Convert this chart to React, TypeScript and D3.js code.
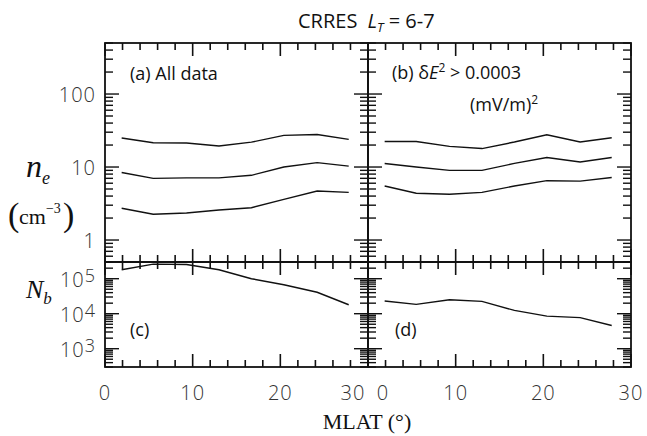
import React from "react";
import * as d3 from "d3";

// ---- data ----
const mlat = [1.9, 5.5, 9.3, 13.0, 16.7, 20.4, 24.2, 27.8];
const aUpper = [25, 21.5, 21.3, 19.4, 21.9, 27.1, 27.9, 23.9];
const aMid = [8.4, 7.0, 7.1, 7.1, 7.7, 10.0, 11.5, 10.3];
const aLower = [2.72, 2.26, 2.35, 2.58, 2.77, 3.6, 4.7, 4.5];
const bUpper = [22.4, 22.4, 19.2, 17.9, 22, 27.7, 22, 25.2];
const bMid = [11.2, 10, 9.0, 9.0, 11.2, 13.5, 11.7, 13.5];
const bLower = [5.5, 4.37, 4.23, 4.5, 5.5, 6.5, 6.4, 7.2];
const cNb = [1.8e5, 2.6e5, 2.55e5, 1.8e5, 1.0e5, 6.7e4, 4.1e4, 1.8e4];
const dNb = [2.3e4, 1.85e4, 2.5e4, 2.25e4, 1.24e4, 8.5e3, 7.7e3, 4.6e3];

const xDomain = [0, 30];
const xTickLabels = [0, 10, 20, 30];
const xMinorTicks = [0, 2, 4, 6, 8, 10, 12, 14, 16, 18, 20, 22, 24, 26, 28, 30];
const neDomain = [0.5, 500];
const neTickLabels = ["1", "10", "100"];
const nbDomain = [300, 3e5];
const nbTickExps = ["3", "4", "5"];

// ---- layout ----
const L = { x0: 105, x1: 368 };
const R = { x0: 368, x1: 631 };
const TOP = { y0: 43, y1: 262 };
const BOT = { y0: 262, y1: 367 };

const tickFont = "'Open Sans', 'Noto Sans', sans-serif";
const serif = "'Liberation Serif', 'DejaVu Serif', serif";
const INK = "#111";

function logTicks(lo: number, hi: number) {
  const out: { v: number; major: boolean }[] = [];
  const e0 = Math.floor(Math.log10(lo));
  const e1 = Math.ceil(Math.log10(hi));
  for (let e = e0; e <= e1; e++) {
    for (let m = 1; m <= 9; m++) {
      const v = m * Math.pow(10, e);
      if (v >= lo * 0.9999 && v <= hi * 1.0001) out.push({ v: v, major: m === 1 });
    }
  }
  return out;
}

function panelMarks(key: string, xr: any, yr: any, ydom: number[], series: number[][]) {
  const x = d3.scaleLinear().domain(xDomain).range([xr.x0, xr.x1]);
  const y = d3.scaleLog().domain(ydom).range([yr.y1, yr.y0]);
  const lineGen = d3.line<number>().x((_, i) => x(mlat[i])).y((v) => y(v));
  const yt = logTicks(ydom[0], ydom[1]);
  const out: any[] = [];
  xMinorTicks.forEach((v) => {
    const len = v % 10 === 0 ? 13 : 7;
    out.push(<line key={key + "xt" + v} x1={x(v)} x2={x(v)} y1={yr.y0} y2={yr.y0 + len} stroke={INK} strokeWidth={1.6} />);
    out.push(<line key={key + "xb" + v} x1={x(v)} x2={x(v)} y1={yr.y1} y2={yr.y1 - len} stroke={INK} strokeWidth={1.6} />);
  });
  yt.forEach((t, i) => {
    const len = t.major ? 14 : 8;
    out.push(<line key={key + "yl" + i} x1={xr.x0} x2={xr.x0 + len} y1={y(t.v)} y2={y(t.v)} stroke={INK} strokeWidth={1.4} />);
    out.push(<line key={key + "yr" + i} x1={xr.x1} x2={xr.x1 - len} y1={y(t.v)} y2={y(t.v)} stroke={INK} strokeWidth={1.4} />);
  });
  out.push(<rect key={key + "f"} x={xr.x0} y={yr.y0} width={xr.x1 - xr.x0} height={yr.y1 - yr.y0} fill="none" stroke={INK} strokeWidth={1.8} />);
  series.forEach((s, i) => {
    out.push(<path key={key + "s" + i} d={lineGen(s) || ""} fill="none" stroke={INK} strokeWidth={1.4} />);
  });
  return out;
}

export default function App() {
  const xL = d3.scaleLinear().domain(xDomain).range([L.x0, L.x1]);
  const xR = d3.scaleLinear().domain(xDomain).range([R.x0, R.x1]);
  const yTop = d3.scaleLog().domain(neDomain).range([TOP.y1, TOP.y0]);
  const yBot = d3.scaleLog().domain(nbDomain).range([BOT.y1, BOT.y0]);
  return (
    <svg width={647} height={436} style={{ position: "absolute", left: 0, top: 0, background: "#fff" }}>
      <rect width={647} height={436} fill="#fff" />
      {panelMarks("a", L, TOP, neDomain, [aUpper, aMid, aLower])}
      {panelMarks("b", R, TOP, neDomain, [bUpper, bMid, bLower])}
      {panelMarks("c", L, BOT, nbDomain, [cNb])}
      {panelMarks("d", R, BOT, nbDomain, [dNb])}

      {/* y tick labels */}
      <g fontFamily={tickFont} fontSize={20} fill="#333" textAnchor="end" fontWeight={300}>
        {neTickLabels.map((t) => (
          <text key={t} x={96} y={yTop(+t) + 8} letterSpacing={1}>{t}</text>
        ))}
        {nbTickExps.map((e) => (
          <text key={e} x={96} y={yBot(Math.pow(10, +e)) + 8} letterSpacing={1}>
            10<tspan dy={-5} fontSize={18}>{e}</tspan>
          </text>
        ))}
      </g>
      {/* x tick labels */}
      <g fontFamily={tickFont} fontSize={20} fill="#333" textAnchor="middle" fontWeight={300}>
        {xTickLabels.map((v, i) => (
          <text key={"l" + v} x={xL(v) + (i === xTickLabels.length - 1 ? -15 : 0)} y={400} letterSpacing={1}>{v}</text>
        ))}
        {xTickLabels.map((v, i) => (
          <text key={"r" + v} x={xR(v) + (i === 0 ? 15 : 0)} y={400} letterSpacing={1}>{v}</text>
        ))}
      </g>

      {/* panel labels */}
      <g fontFamily={tickFont} fontSize={18} fill={INK}>
        <text x={130} y={80}>(a) All data</text>
        <text x={392} y={79}>
          (b) δ<tspan fontStyle="italic">E</tspan><tspan dy={-7} fontSize={12}>2</tspan><tspan dy={7}> &gt; 0.0003</tspan>
        </text>
        <text x={470} y={111}>
          (mV/m)<tspan dy={-7} fontSize={12}>2</tspan>
        </text>
        <text x={130} y={336}>(c)</text>
        <text x={395} y={336}>(d)</text>
      </g>

      {/* title */}
      <text x={298} y={28} fontFamily={tickFont} fontSize={20} fill={INK}>
        CRRES<tspan dx={10} fontStyle="italic">L</tspan><tspan fontStyle="italic" fontSize={13} dy={4}>T</tspan><tspan dy={-4}> = 6-7</tspan>
      </text>

      {/* y axis labels */}
      <g fontFamily={serif} fill={INK}>
        <text x={26} y={177} fontSize={32} fontStyle="italic">n<tspan fontSize={18} dy={7}>e</tspan></text>
        <text x={8} y={226} fontSize={34}>(</text>
        <text x={19} y={224} fontSize={22}>cm<tspan fontSize={14} dy={-11}>−3</tspan></text>
        <text x={63} y={226} fontSize={34}>)</text>
        <text x={26} y={298} fontSize={26} fontStyle="italic">N<tspan fontSize={17} dy={6}>b</tspan></text>
      </g>

      {/* x axis label */}
      <text x={367} y={429} textAnchor="middle" fontFamily={serif} fontSize={22} fill={INK}>MLAT (°)</text>
    </svg>
  );
}
